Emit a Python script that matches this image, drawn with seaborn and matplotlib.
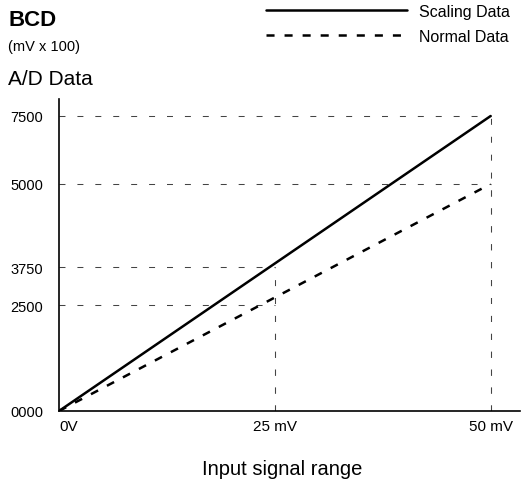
"""A/D conversion chart: scaling data vs normal data (BCD output)."""
import matplotlib
matplotlib.use("Agg")
import matplotlib.pyplot as plt
import numpy as np
import pandas as pd
import seaborn as sns

# ---- data -------------------------------------------------------------
signal_mv = [0, 50]
scaling_bcd = [0, 7500]
normal_bcd = [0, 5000]

x_ticks = [0, 25, 50]
x_tick_labels = ["0V", "25 mV", "50 mV"]
y_ticks = [0, 2500, 3750, 5000, 7500]
y_tick_labels = ["0000", "2500", "3750", "5000", "7500"]

# guide lines: (x, y) corner points
guide_x = [25, 25, 50, 50]
guide_y = [3750, 2500, 7500, 5000]

# schematic (not to scale) y-axis spacing, in pixels above the x axis
y_scale_vals = [0, 2500, 3750, 5000, 7500, 8125]
y_scale_px = [0, 106, 144, 227, 295, 312]

sns.set_style("white")
plt.rcParams["font.family"] = ["Liberation Sans", "DejaVu Sans"]
plt.rcParams["lines.scale_dashes"] = False
for key in ["text.color", "axes.labelcolor", "xtick.color", "ytick.color"]:
    plt.rcParams[key] = "black"

df = pd.DataFrame({
    "signal": signal_mv * 2,
    "value": scaling_bcd + normal_bcd,
    "series": ["Scaling Data"] * 2 + ["Normal Data"] * 2,
})

W, H = 521, 481
fig = plt.figure(figsize=(W / 100, H / 100), dpi=100)
ax = fig.add_axes([59 / W, 69 / H, 461 / W, 312 / H])

ax.set_yscale(
    "function",
    functions=(lambda v: np.interp(v, y_scale_vals, y_scale_px),
               lambda p: np.interp(p, y_scale_px, y_scale_vals)),
)

# dashed guides
for gx, gy in zip(guide_x, guide_y):
    ax.plot([0, gx], [gy, gy], color="#444444", lw=0.75, dashes=(4.3, 8.6), zorder=1)
    ax.plot([gx, gx], [0, gy], color="#444444", lw=0.75, dashes=(4.3, 8.6), zorder=1)

sns.lineplot(
    data=df, x="signal", y="value", hue="series", style="series",
    palette={"Scaling Data": "black", "Normal Data": "black"},
    dashes={"Scaling Data": "", "Normal Data": (5.8, 7.2)},
    linewidth=1.8, sort=False, ax=ax, zorder=3,
)

ax.set_xlim(0, 53.4)
ax.set_ylim(0, 8125)
ax.set_xticks(x_ticks, x_tick_labels)
ax.set_yticks(y_ticks, y_tick_labels)
ax.minorticks_off()
ax.tick_params(axis="y", length=0, pad=11.5, labelsize=10.5)
ax.tick_params(axis="x", length=0, pad=5.5, labelsize=11)
ax.get_xticklabels()[0].set_horizontalalignment("left")
ax.set_xlabel("")
ax.set_ylabel("")
for side in ["top", "right"]:
    ax.spines[side].set_visible(False)
for side in ["left", "bottom"]:
    ax.spines[side].set_color("black")
    ax.spines[side].set_linewidth(1.2)

handles, labels = ax.get_legend_handles_labels()
ax.legend(
    handles, labels, loc="upper left",
    bbox_to_anchor=(266 / W, 1 - 5 / H), bbox_transform=fig.transFigure,
    frameon=False, fontsize=11.5, handlelength=8.8, handletextpad=0.8,
    labelspacing=0.6, borderpad=0, borderaxespad=0,
)

fig.text(8 / W, 1 - 26 / H, "BCD", fontsize=16, fontweight="bold", va="baseline")
fig.text(8 / W, 1 - 51 / H, "(mV x 100)", fontsize=10.5, va="baseline")
fig.text(8 / W, 1 - 85 / H, "A/D Data", fontsize=15, va="baseline")
fig.text(282 / W, 1 - 475 / H, "Input signal range", fontsize=14.5,
         ha="center", va="baseline")

fig.savefig("out.png", dpi=100)
